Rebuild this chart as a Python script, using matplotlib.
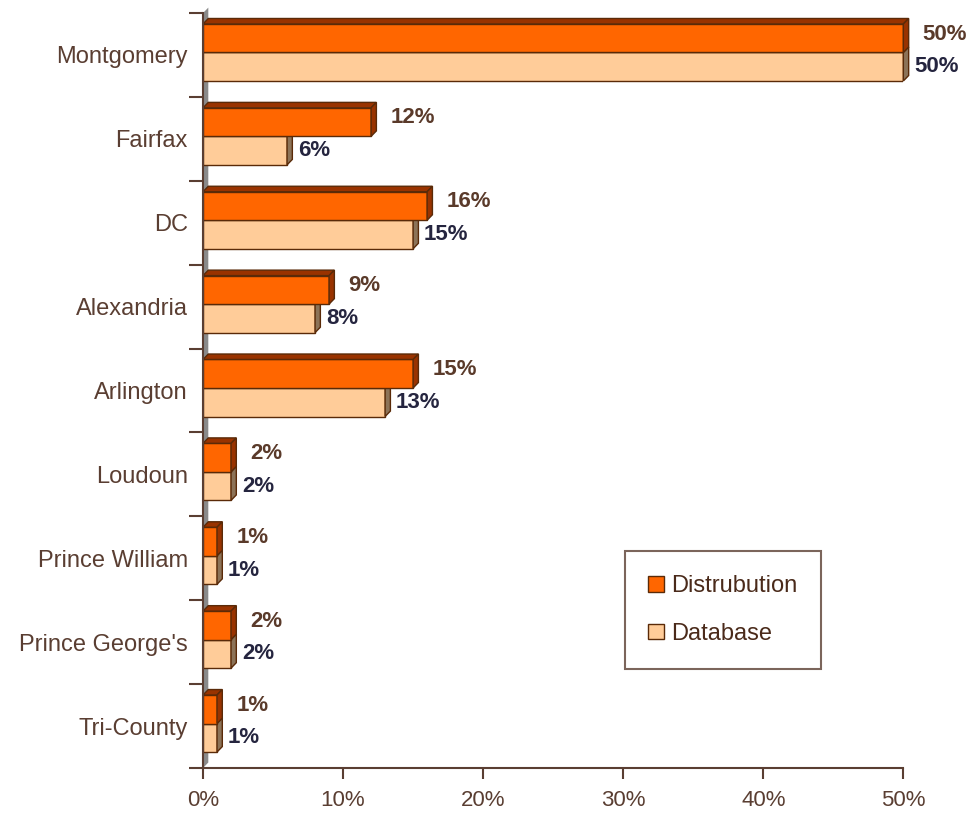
import numpy as np
import matplotlib.pyplot as plt
from matplotlib.patches import Polygon, Patch

# data
categories = ['Montgomery', 'Fairfax', 'DC', 'Alexandria', 'Arlington',
              'Loudoun', 'Prince William', "Prince George's", 'Tri-County']
distribution = [50, 12, 16, 9, 15, 2, 1, 2, 1]
database = [50, 6, 15, 8, 13, 2, 1, 2, 1]
xticks = [0, 10, 20, 30, 40, 50]

brown = '#5a3e32'
edge = '#5a2a08'
c_dist, c_dist_side = '#ff6600', '#993300'
c_db, c_db_side = '#ffcc99', '#8c7358'

plt.rcParams['font.family'] = ['Liberation Sans', 'DejaVu Sans']

fig = plt.figure(figsize=(9.68, 8.15), dpi=100)
ax = fig.add_axes([0.2097, 0.0577, 0.7235, 0.9263])

y = np.arange(len(categories))
h = 0.34
dx, dy = 0.38, 0.065  # 3d depth in data units

# grey back wall strip
wall = Polygon([(0, len(categories) - 0.5), (dx, len(categories) - 0.5 - dy),
                (dx, -0.5 - dy), (0, -0.5)], closed=True,
               facecolor='#8a8a8a', edgecolor='none', clip_on=False, zorder=1)
ax.add_patch(wall)


def bars3d(vals, centers, face, side, z):
    ax.barh(centers, vals, height=h, color=face, edgecolor=edge,
            linewidth=1, zorder=z)
    for v, c in zip(vals, centers):
        top, bot = c - h / 2, c + h / 2
        ax.add_patch(Polygon([(0, top), (v, top), (v + dx, top - dy), (dx, top - dy)],
                             closed=True, facecolor=side, edgecolor=edge,
                             linewidth=1, clip_on=False, zorder=z))
        ax.add_patch(Polygon([(v, bot), (v + dx, bot - dy), (v + dx, top - dy), (v, top)],
                             closed=True, facecolor=side, edgecolor=edge,
                             linewidth=1, clip_on=False, zorder=z))


yd = y - 0.20
yb = y + 0.14
bars3d(database, yb, c_db, c_db_side, 2)
bars3d(distribution, yd, c_dist, c_dist_side, 3)

for v, c in zip(distribution, yd):
    ax.annotate(f'{v}%', (v + dx, c), xytext=(10, 3), textcoords='offset points',
                ha='left', va='center', fontsize=16, fontweight='bold',
                color='#5a3a2a', annotation_clip=False)
for v, c in zip(database, yb):
    ax.annotate(f'{v}%', (v + dx, c), xytext=(4, 0), textcoords='offset points',
                ha='left', va='center', fontsize=16, fontweight='bold',
                color='#25253f', annotation_clip=False)

ax.set_xlim(0, 50)
ax.set_ylim(len(categories) - 0.5, -0.5)
ax.set_xticks(xticks)
ax.set_xticklabels([f'{t}%' for t in xticks], fontsize=16, color=brown)
ax.set_yticks(y)
ax.set_yticklabels(categories, fontsize=17, color=brown)
ax.set_yticks(np.arange(len(categories) + 1) - 0.5, minor=True)
ax.tick_params(axis='y', which='major', length=0, pad=11)
ax.tick_params(axis='y', which='minor', length=10, width=1.5, color=brown)
ax.tick_params(axis='x', length=8, width=1.5, color=brown, pad=8)

for s in ['top', 'right']:
    ax.spines[s].set_visible(False)
for s in ['left', 'bottom']:
    ax.spines[s].set_color(brown)
    ax.spines[s].set_linewidth(1.5)
    ax.spines[s].set_zorder(4)

handles = [Patch(facecolor=c_dist, edgecolor=edge, label='Distrubution'),
           Patch(facecolor=c_db, edgecolor=edge, label='Database')]
leg = ax.legend(handles=handles, loc='upper left', bbox_to_anchor=(0.602, 0.287),
                fontsize=17, frameon=True, fancybox=False, handlelength=0.65,
                handleheight=0.65, handletextpad=0.3, labelspacing=1.1,
                borderpad=1.0, borderaxespad=0)
leg.get_frame().set_edgecolor(brown)
leg.get_frame().set_linewidth(1.5)
for t in leg.get_texts():
    t.set_color('#4a2a1a')

fig.savefig('out.png', dpi=100)
